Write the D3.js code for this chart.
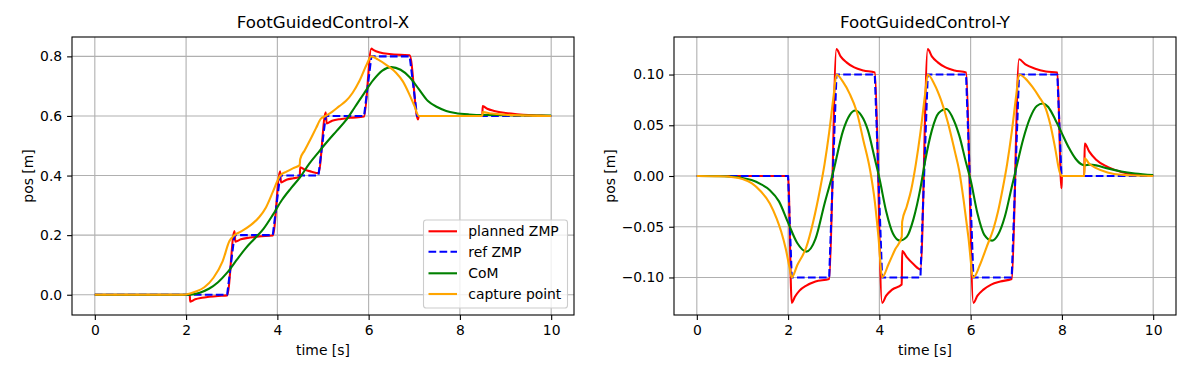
<!DOCTYPE html>
<html>
<head>
<meta charset="utf-8">
<script src="https://cdn.jsdelivr.net/npm/d3@7"></script>
<style>
  body { margin: 0; background: #fff; }
  svg { font-family: "DejaVu Sans", sans-serif; }
</style>
</head>
<body>
<svg id="chart" width="1200" height="366"></svg>
<script>
// ---- data ([time s, pos m]) ----
var seriesNames = ["planned ZMP", "ref ZMP", "CoM", "capture point"];
var xTicks = [0, 2, 4, 6, 8, 10];
var yTicksX = [0.0, 0.2, 0.4, 0.6, 0.8];
var yTicksY = [-0.10, -0.05, 0.00, 0.05, 0.10];

// X direction
var xPlannedZmp = [[0,0],[2.08,0],[2.09,-0.023],[2.2,-0.015],[2.35,-0.01],[2.5,-0.007],[2.7,-0.004],[2.9,-0.002],
  [3.06,0.214],[3.08,0.178],[3.2,0.186],[3.4,0.192],[3.6,0.196],[3.9,0.199],
  [4.06,0.414],[4.08,0.377],[4.2,0.386],[4.35,0.391],[4.49,0.395],[4.5,0.428],[4.6,0.42],[4.75,0.413],[4.9,0.408],
  [5.06,0.612],[5.08,0.575],[5.2,0.584],[5.4,0.59],[5.6,0.594],[5.9,0.598],
  [6.06,0.826],[6.1,0.822],[6.25,0.813],[6.45,0.808],[6.7,0.805],[6.9,0.804],
  [7.08,0.588],[7.1,0.6],[8.49,0.6],[8.5,0.633],[8.6,0.624],[8.75,0.617],[9.0,0.61],[9.25,0.606],[9.5,0.603],[9.8,0.601],[10,0.6]];
var xRefZmp = [[0,0],[2.9,0],[3.06,0.2],[3.9,0.2],[4.06,0.4],[4.9,0.4],[5.06,0.6],[5.9,0.6],[6.06,0.8],[6.9,0.8],[7.06,0.6],[10,0.6]];
var xCom = [[0,0],[2.0,0],[2.1,0.0005],[2.3,0.007],[2.5,0.02],[2.7,0.042],[2.9,0.074],[3.1,0.115],[3.3,0.155],[3.5,0.188],
  [3.7,0.222],[3.9,0.268],[4.1,0.318],[4.3,0.358],[4.5,0.395],[4.7,0.44],[4.9,0.478],[5.1,0.515],[5.3,0.55],[5.5,0.585],
  [5.7,0.63],[5.9,0.676],[6.1,0.72],[6.3,0.752],[6.5,0.764],[6.7,0.755],[6.9,0.73],[7.1,0.69],[7.3,0.65],[7.5,0.63],
  [7.7,0.617],[7.9,0.61],[8.2,0.605],[8.5,0.603],[8.8,0.603],[9.2,0.602],[10,0.601]];
var xCapture = [[0,0],[1.9,0],[2.0,0.001],[2.2,0.01],[2.4,0.025],[2.6,0.057],[2.8,0.112],[2.95,0.18],[3.06,0.2],[3.2,0.212],
  [3.4,0.232],[3.6,0.26],[3.75,0.293],[3.9,0.345],[4.0,0.382],[4.06,0.4],[4.2,0.413],[4.35,0.425],[4.49,0.435],[4.5,0.455],
  [4.6,0.485],[4.72,0.52],[4.85,0.56],[4.95,0.59],[5.06,0.6],[5.2,0.614],[5.35,0.632],[5.5,0.65],[5.65,0.678],[5.8,0.718],
  [5.95,0.77],[6.06,0.8],[6.2,0.79],[6.4,0.77],[6.6,0.745],[6.75,0.716],[6.9,0.67],[7.0,0.635],[7.1,0.6],[8.49,0.6],
  [8.5,0.613],[8.7,0.608],[9.0,0.604],[9.5,0.601],[10,0.6]];

// Y direction
var yPlannedZmp = [[0,0],[2.0,0],[2.08,-0.125],[2.15,-0.119],[2.25,-0.113],[2.4,-0.108],[2.6,-0.104],[2.9,-0.1015],
  [3.06,0.125],[3.15,0.118],[3.28,0.112],[3.45,0.107],[3.65,0.104],[3.9,0.102],
  [4.06,-0.125],[4.15,-0.118],[4.28,-0.112],[4.49,-0.107],[4.5,-0.074],[4.6,-0.08],[4.75,-0.087],[4.9,-0.092],
  [5.06,0.125],[5.15,0.118],[5.28,0.112],[5.45,0.107],[5.65,0.104],[5.9,0.102],
  [6.06,-0.125],[6.15,-0.118],[6.28,-0.112],[6.45,-0.107],[6.65,-0.104],[6.9,-0.1015],
  [7.06,0.115],[7.2,0.11],[7.4,0.106],[7.65,0.103],[7.9,0.102],[7.99,-0.012],[8.0,0],[8.49,0],
  [8.5,0.032],[8.6,0.024],[8.75,0.016],[9.0,0.009],[9.3,0.004],[9.6,0.0015],[10,0.0005]];
var yRefZmp = [[0,0],[2.0,0],[2.08,-0.1],[2.9,-0.1],[3.06,0.1],[3.9,0.1],[4.06,-0.1],[4.9,-0.1],[5.06,0.1],[5.9,0.1],
  [6.06,-0.1],[6.9,-0.1],[7.06,0.1],[7.9,0.1],[7.99,0],[10,0]];
var yCom = [[0,0],[0.6,-0.0002],[0.8,-0.0008],[1.0,-0.002],[1.2,-0.004],[1.4,-0.008],[1.6,-0.014],[1.8,-0.025],[2.0,-0.046],
  [2.2,-0.066],[2.4,-0.0745],[2.6,-0.062],[2.8,-0.027],[3.0,0.006],[3.2,0.044],[3.35,0.06],[3.47,0.0645],[3.6,0.06],
  [3.75,0.045],[3.9,0.017],[4.0,-0.002],[4.15,-0.035],[4.3,-0.057],[4.45,-0.0637],[4.6,-0.06],[4.75,-0.042],[4.9,-0.012],
  [5.0,0.014],[5.15,0.045],[5.3,0.062],[5.47,0.066],[5.6,0.058],[5.75,0.04],[5.9,0.013],[6.0,-0.004],[6.15,-0.037],
  [6.3,-0.058],[6.47,-0.0637],[6.6,-0.058],[6.75,-0.04],[6.9,-0.011],[7.0,0.008],[7.15,0.036],[7.3,0.057],[7.45,0.069],
  [7.58,0.0715],[7.7,0.068],[7.85,0.056],[8.0,0.042],[8.15,0.028],[8.3,0.017],[8.45,0.011],[8.5,0.0105],[8.6,0.0112],
  [8.75,0.0105],[9.0,0.0075],[9.3,0.0045],[9.6,0.0025],[10,0.001]];
var yCapture = [[0,0],[0.5,-0.0003],[0.8,-0.0012],[1.0,-0.003],[1.2,-0.007],[1.4,-0.015],[1.6,-0.027],[1.75,-0.042],
  [1.85,-0.055],[1.95,-0.072],[2.03,-0.09],[2.08,-0.1],[2.2,-0.088],[2.4,-0.07],[2.55,-0.045],[2.7,-0.013],[2.8,0.012],
  [2.9,0.043],[3.0,0.08],[3.06,0.1],[3.2,0.093],[3.35,0.081],[3.5,0.064],[3.65,0.035],[3.8,0.005],[3.9,-0.025],
  [3.98,-0.06],[4.06,-0.1],[4.2,-0.087],[4.35,-0.072],[4.49,-0.06],[4.5,-0.045],[4.6,-0.03],[4.7,-0.013],[4.8,0.012],
  [4.9,0.043],[5.0,0.08],[5.06,0.1],[5.2,0.091],[5.35,0.075],[5.5,0.053],[5.65,0.025],[5.75,0.005],[5.85,-0.025],
  [5.95,-0.06],[6.06,-0.1],[6.2,-0.088],[6.35,-0.07],[6.5,-0.052],[6.6,-0.035],[6.7,-0.013],[6.8,0.012],[6.9,0.043],
  [7.0,0.08],[7.06,0.1],[7.2,0.096],[7.35,0.088],[7.5,0.078],[7.65,0.066],[7.75,0.05],[7.85,0.028],[7.95,0.004],
  [8.0,0],[8.49,0],[8.5,0.0174],[8.6,0.012],[8.75,0.0078],[9.0,0.0035],[9.3,0.0012],[10,0]];

// ---- layout / style ----
var plotTop = 37, plotBottom = 315;
var fs = 13.9;
var styles = [
  {color: "red", dash: null, curve: d3.curveMonotoneX},
  {color: "blue", dash: "7.7,3.3", curve: d3.curveLinear},
  {color: "green", dash: null, curve: d3.curveMonotoneX},
  {color: "orange", dash: null, curve: d3.curveMonotoneX}
];

var panels = [
  {title: "FootGuidedControl-X", left: 72, right: 574, ydom: [-0.068, 0.865], yticks: yTicksX, yfmt: d3.format(".1f"),
   labelOff: 39, data: [xPlannedZmp, xRefZmp, xCom, xCapture], legend: true},
  {title: "FootGuidedControl-Y", left: 674, right: 1176, ydom: [-0.137, 0.137], yticks: yTicksY, yfmt: d3.format(".2f"),
   labelOff: 59, data: [yPlannedZmp, yRefZmp, yCom, yCapture], legend: false}
];

var svg = d3.select("#chart");

panels.forEach(function(p) {
  var xScale = d3.scaleLinear().domain([-0.5, 10.5]).range([p.left, p.right]);
  var yScale = d3.scaleLinear().domain(p.ydom).range([plotBottom, plotTop]);
  var g = svg.append("g");

  // grid
  g.selectAll("line.gx").data(xTicks).enter().append("line")
    .attr("x1", function(d) { return xScale(d); }).attr("x2", function(d) { return xScale(d); })
    .attr("y1", plotTop).attr("y2", plotBottom)
    .attr("stroke", "#b0b0b0").attr("stroke-width", 1.1);
  g.selectAll("line.gy").data(p.yticks).enter().append("line")
    .attr("x1", p.left).attr("x2", p.right)
    .attr("y1", function(d) { return yScale(d); }).attr("y2", function(d) { return yScale(d); })
    .attr("stroke", "#b0b0b0").attr("stroke-width", 1.1);

  // series
  p.data.forEach(function(arr, i) {
    var line = d3.line()
      .x(function(d) { return xScale(d[0]); })
      .y(function(d) { return yScale(d[1]); })
      .curve(styles[i].curve);
    g.append("path")
      .datum(arr)
      .attr("d", line)
      .attr("fill", "none")
      .attr("stroke", styles[i].color)
      .attr("stroke-width", 2.1)
      .attr("stroke-dasharray", styles[i].dash)
      .attr("stroke-linejoin", "round");
  });

  // spines
  g.append("rect")
    .attr("x", p.left).attr("y", plotTop)
    .attr("width", p.right - p.left).attr("height", plotBottom - plotTop)
    .attr("fill", "none").attr("stroke", "#000").attr("stroke-width", 1.1);

  // axes
  var xAxis = d3.axisBottom(xScale).tickValues(xTicks).tickSize(4.9).tickPadding(4.9).tickFormat(d3.format("d"));
  var yAxis = d3.axisLeft(yScale).tickValues(p.yticks).tickSize(4.9).tickPadding(4.9).tickFormat(p.yfmt);
  var ax = g.append("g").attr("transform", "translate(0," + plotBottom + ")").call(xAxis);
  var ay = g.append("g").attr("transform", "translate(" + p.left + ",0)").call(yAxis);
  [ax, ay].forEach(function(a) {
    a.select(".domain").remove();
    a.selectAll("line").attr("stroke", "#000").attr("stroke-width", 1.1);
    a.selectAll("text").attr("font-size", fs).attr("fill", "#000")
      .attr("font-family", "DejaVu Sans, sans-serif");
  });

  // labels
  var cx = (p.left + p.right) / 2;
  g.append("text").attr("x", cx).attr("y", 28).attr("text-anchor", "middle")
    .attr("font-size", 16.7).text(p.title);
  g.append("text").attr("x", cx).attr("y", 355).attr("text-anchor", "middle")
    .attr("font-size", fs).text("time [s]");
  g.append("text").attr("text-anchor", "middle").attr("font-size", fs)
    .attr("transform", "translate(" + (p.left - p.labelOff) + "," + ((plotTop + plotBottom) / 2) + ")rotate(-90)")
    .text("pos [m]");

  // legend
  if (p.legend) {
    var lg = g.append("g");
    lg.append("rect").attr("x", 423.5).attr("y", 220).attr("width", 144).attr("height", 88)
      .attr("rx", 2.8).attr("fill", "#fff").attr("fill-opacity", 0.8)
      .attr("stroke", "#cccccc").attr("stroke-width", 1.1);
    var rows = [231.3, 251.7, 273.3, 294];
    seriesNames.forEach(function(name, i) {
      lg.append("line").attr("x1", 428.5).attr("x2", 457).attr("y1", rows[i]).attr("y2", rows[i])
        .attr("stroke", styles[i].color).attr("stroke-width", 2.1)
        .attr("stroke-dasharray", styles[i].dash);
      lg.append("text").attr("x", 468.3).attr("y", rows[i]).attr("dy", "0.35em")
        .attr("font-size", fs).text(name);
    });
  }
});
</script>
</body>
</html>
